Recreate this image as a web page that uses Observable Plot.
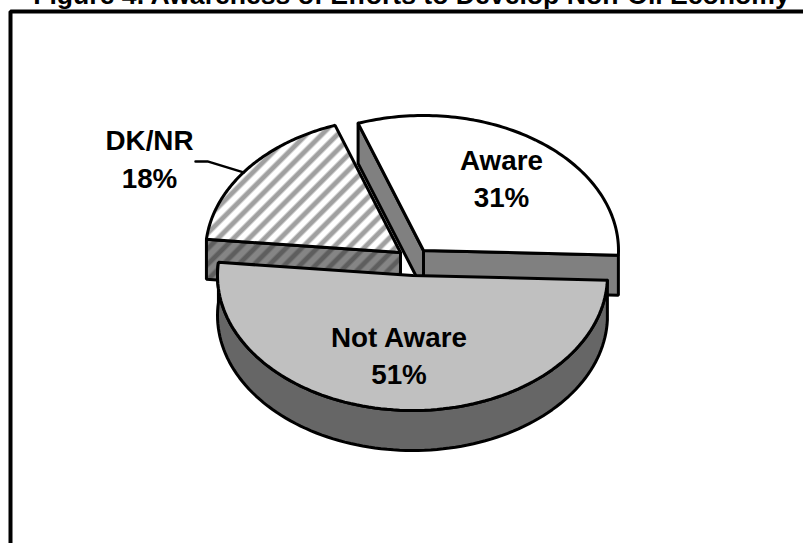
<!DOCTYPE html>
<html><head><meta charset="utf-8">
<script src="https://cdn.jsdelivr.net/npm/d3@7"></script>
<script src="https://cdn.jsdelivr.net/npm/@observablehq/plot@0.6"></script>
<style>html,body{margin:0;padding:0;background:#fff;overflow:hidden}</style>
</head><body><div id="chart"></div>
<script>
const categories = ["Aware", "Not Aware", "DK/NR"];
const shares = [31, 51, 18];
const percentLabels = ["31%", "51%", "18%"];
const titleText = "Figure 4. Awareness of Efforts to Develop Non-Oil Economy";

// Layout of the exploded, tilted pie
const W = 803, H = 543, rx = 195, ry = 135, depth = 40, startDeg = -19.6;
const centers = [[423, 250], [412, 275], [400, 252]];
const labelAt = [[501, 161, 198], [398.5, 338, 375], [149, 141, 179]];
const sliceFill = ["#ffffff", "#c0c0c0", "url(#hatchTop)"];
const wallFill = ["#808080", "#666666", "url(#hatchWall)"];

const total = d3.sum(shares);
let acc = startDeg * Math.PI / 180;
const slices = shares.map((v, i) => {
  const a0 = acc, a1 = acc + v / total * 2 * Math.PI; acc = a1;
  return {i, a0, a1, c: centers[i]};
});
const pt = (s, a, dz = 0) => ({x: s.c[0] + rx * Math.sin(a), y: s.c[1] - ry * Math.cos(a) + dz});
const arc = (s, from, to, dz = 0) => d3.range(0, 101).map(k => pt(s, from + (to - from) * k / 100, dz));
const apex = (s, dz = 0) => ({x: s.c[0], y: s.c[1] + dz});

const shapes = [];
function add(id, fill, pts) { pts.forEach(p => shapes.push({...p, id, fill})); }
function close(p) { return [...p, p[0]]; }
const [aw, na, dk] = slices;

// Aware: walls then top
add("aw-cut", wallFill[0], close([pt(aw, aw.a0), apex(aw), apex(aw, depth), pt(aw, aw.a0, depth)]));
add("aw-front", wallFill[0], close([apex(aw), pt(aw, aw.a1), pt(aw, aw.a1, depth), apex(aw, depth)]));
add("aw-top", sliceFill[0], close([apex(aw), ...arc(aw, aw.a0, aw.a1)]));
// DK/NR
add("dk-front", wallFill[2], close([pt(dk, dk.a0), apex(dk), apex(dk, depth), pt(dk, dk.a0, depth)]));
add("dk-top", sliceFill[2], close([apex(dk), ...arc(dk, dk.a0, dk.a1)]));
// Not Aware
add("na-side", wallFill[1], close([...arc(na, na.a0, na.a1), ...arc(na, na.a0, na.a1, depth).reverse()]));
add("na-top", sliceFill[1], close([apex(na), ...arc(na, na.a0, na.a1)]));

// leader from the DK/NR rim
const rim = pt(dk, dk.a0 + (dk.a1 - dk.a0) * 0.475);
const leader = [{x: rim.x - 48, y: rim.y - 11}, {x: rim.x - 36, y: rim.y - 11}, rim];

const labels = [];
categories.forEach((c, i) => {
  labels.push({x: labelAt[i][0], y: labelAt[i][1], t: c});
  labels.push({x: labelAt[i][0], y: labelAt[i][2], t: percentLabels[i]});
});

const font = "'Liberation Sans', Arial, sans-serif";
const plot = Plot.plot({
  width: W, height: H, margin: 0,
  x: {domain: [0, W], range: [0, W], axis: null},
  y: {domain: [0, H], range: [0, H], axis: null},
  marks: [
    Plot.line(shapes, {x: "x", y: "y", z: "id", fill: "fill", stroke: "#000", strokeWidth: 3, strokeLinejoin: "miter", curve: "linear"}),
    Plot.line(leader, {x: "x", y: "y", stroke: "#000", strokeWidth: 2.5, curve: "linear"}),
    Plot.line([{x: 10, y: H + 10}, {x: 10, y: 11}, {x: W + 10, y: 11}], {x: "x", y: "y", stroke: "#000", strokeWidth: 4, strokeLinejoin: "miter", curve: "linear"}),
    Plot.text(labels, {x: "x", y: "y", text: "t", fontFamily: font, fontWeight: "bold", fontSize: 27.8, fill: "#000"}),
    Plot.text([titleText], {x: () => 411, y: () => -5.5, text: d => d, fontFamily: font, fontWeight: "bold", fontSize: 26.6, fill: "#000"})
  ]
});
const ns = "http://www.w3.org/2000/svg";
const defs = document.createElementNS(ns, "defs");
defs.innerHTML = `
<pattern id="hatchTop" patternUnits="userSpaceOnUse" width="11" height="11" patternTransform="rotate(45)">
<rect width="11" height="11" fill="#fff"/><rect width="6" height="11" fill="#d2d2d2"/><rect x="1" width="4" height="11" fill="#a0a0a0"/></pattern>
<pattern id="hatchWall" patternUnits="userSpaceOnUse" width="11" height="11" patternTransform="rotate(45)">
<rect width="11" height="11" fill="#858585"/><rect width="6" height="11" fill="#747474"/><rect x="1" width="4" height="11" fill="#5e5e5e"/></pattern>`;
plot.insertBefore(defs, plot.firstChild);
document.getElementById("chart").appendChild(plot);
</script></body></html>
